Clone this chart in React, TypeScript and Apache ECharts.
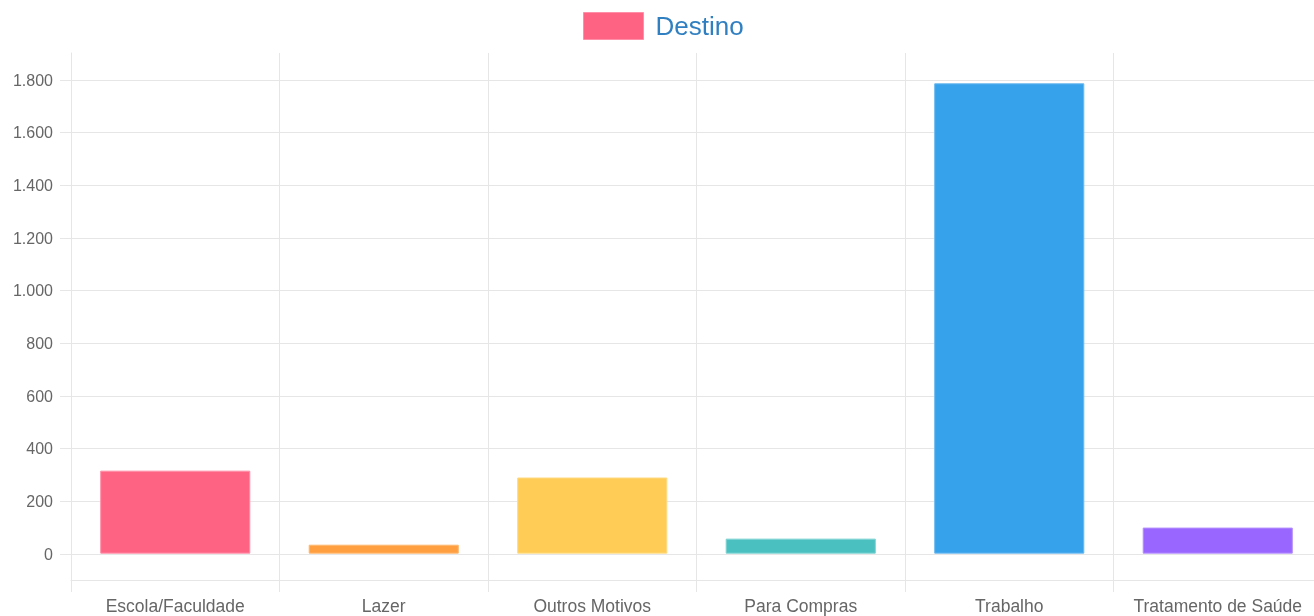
import React, { useEffect, useRef } from "react";
import * as echarts from "echarts";

const categories = ["Escola/Faculdade", "Lazer", "Outros Motivos", "Para Compras", "Trabalho", "Tratamento de Saúde"];
const values = [315, 34, 289, 57, 1785, 99];
const barColors = ["#ff6384", "#ff9f40", "#ffcd56", "#4bc0c0", "#36a2eb", "#9966ff"];
const borderColors = ["#ff8fa8", "#ffb870", "#ffdb85", "#7fd3d3", "#6cbaf0", "#b591ff"];
const seriesName = "Destino";
const yTicks = { min: 0, max: 1800, step: 200 };
const frame = { min: -100, max: 1900 };

const FONT = "'Liberation Sans', Arial, Helvetica, sans-serif";
const GRID = "#e6e6e6";

export default function App() {
  const ref = useRef<HTMLDivElement>(null);
  useEffect(() => {
    if (!ref.current) return;
    const chart = echarts.init(ref.current, undefined, { renderer: "svg" });
    chart.setOption({
      animation: false,
      textStyle: { fontFamily: FONT },
      legend: {
        top: 7,
        left: 578,
        itemWidth: 60,
        itemHeight: 27,
        icon: "rect",
        data: [seriesName],
        textStyle: { color: "#2f7fc1", fontSize: 26, fontFamily: FONT, padding: [0, 0, 0, 7] },
        itemStyle: { color: barColors[0], borderColor: borderColors[0], borderWidth: 1 },
      },
      grid: [
        { left: 71, right: 8, top: 53, bottom: 36, containLabel: false },
        { left: 71, right: 8, top: 80, bottom: 62, containLabel: false },
      ],
      xAxis: [
        {
          type: "category",
          gridIndex: 0,
          data: categories,
          boundaryGap: true,
          axisLine: { show: true, onZero: false, lineStyle: { color: GRID, width: 1 } },
          axisTick: { show: true, length: 12, lineStyle: { color: GRID } },
          splitLine: { show: true, lineStyle: { color: GRID, width: 1 } },
          axisLabel: { color: "#666", fontSize: 17.5, margin: 17, fontFamily: FONT, interval: 0 },
        },
        { type: "category", gridIndex: 1, data: categories, show: false },
      ],
      yAxis: [
        {
          type: "value",
          gridIndex: 0,
          min: frame.min,
          max: frame.max,
          axisLine: { show: true, onZero: false, lineStyle: { color: GRID } },
          axisTick: { show: false },
          axisLabel: { show: false },
          splitLine: { show: false },
        },
        {
          type: "value",
          gridIndex: 1,
          min: yTicks.min,
          max: yTicks.max,
          interval: yTicks.step,
          axisLine: { show: false },
          axisTick: { show: true, length: 11, lineStyle: { color: GRID } },
          splitLine: { show: true, lineStyle: { color: GRID, width: 1 } },
          axisLabel: {
            color: "#666",
            fontSize: 16,
            margin: 18,
            fontFamily: FONT,
            formatter: (v: number) => v.toLocaleString("pt-BR"),
          },
        },
      ],
      series: [
        {
          name: seriesName,
          type: "bar",
          xAxisIndex: 0,
          yAxisIndex: 0,
          barWidth: "72%",
          itemStyle: { color: barColors[0], borderColor: borderColors[0], borderWidth: 1 },
          data: values.map((v, i) => ({
            value: v,
            itemStyle: { color: barColors[i], borderColor: borderColors[i], borderWidth: 1 },
          })),
        },
      ],
    });
    return () => chart.dispose();
  }, []);
  return (
    <div style={{ position: "fixed", left: 0, top: 0, width: 1314, height: 616, overflow: "hidden" }}>
      <div ref={ref} style={{ position: "absolute", left: 0, top: 0, width: 1330, height: 616 }} />
    </div>
  );
}
